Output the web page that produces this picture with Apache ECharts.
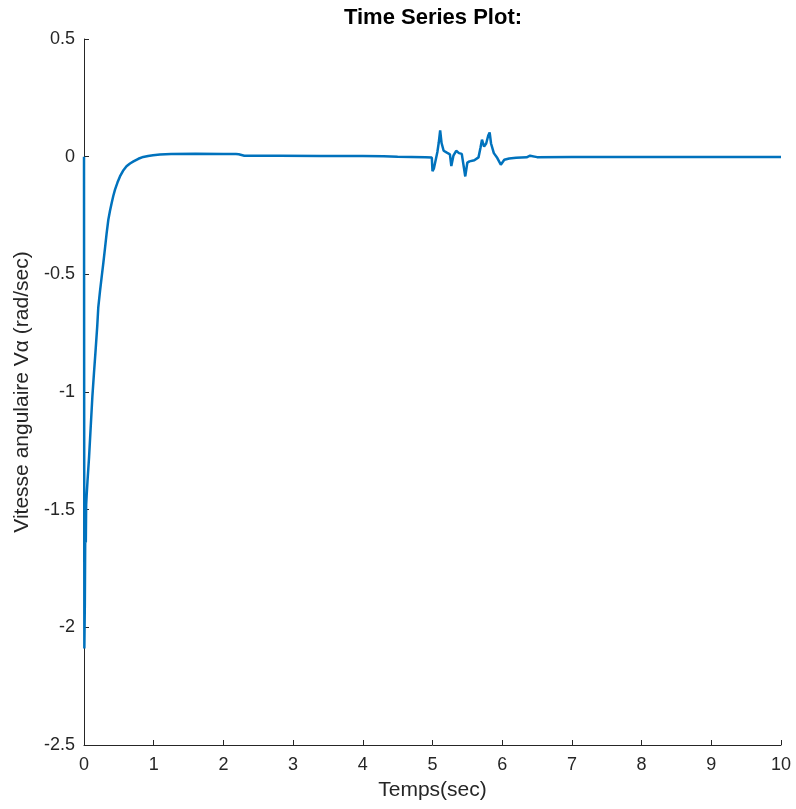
<!DOCTYPE html>
<html>
<head>
<meta charset="utf-8">
<script src="https://cdn.jsdelivr.net/npm/echarts@6/dist/echarts.min.js"></script>
<style>
  html, body { margin: 0; padding: 0; background: #fff; }
  #chart { width: 796px; height: 809px; }
</style>
</head>
<body>
<div id="chart"></div>
<script>
// Angular velocity response over time (rad/sec)
const timeSec = [
  0, 0.005, 0.012, 0.02, 0.026, 0.031, 0.038, 0.05, 0.072, 0.096, 0.12, 0.143,
  0.167, 0.19, 0.205, 0.23, 0.254, 0.278, 0.301, 0.325, 0.349, 0.373, 0.397, 0.42,
  0.445, 0.48, 0.516, 0.56, 0.61, 0.66, 0.71, 0.78, 0.85, 0.92, 0.99, 1.09, 1.25,
  1.6, 2.0, 2.18, 2.2, 2.22, 2.3, 2.8, 3.4, 4.0, 4.3, 4.5,
  4.7, 4.71, 4.72, 4.9, 4.99, 5.0, 5.02, 5.04, 5.07, 5.09, 5.11, 5.13, 5.16,
  5.2, 5.25, 5.27, 5.3, 5.34, 5.38, 5.42, 5.47, 5.5, 5.53, 5.6, 5.66, 5.69,
  5.71, 5.74, 5.77, 5.8, 5.82, 5.84, 5.88, 5.93, 5.98, 6.03, 6.1, 6.2, 6.35,
  6.4, 6.5, 7.0, 8.0, 9.0, 10.0
];
const angularVelocity = [
  0, -2.09, -1.9, -1.5, -1.64, -1.48, -1.44, -1.38, -1.28, -1.15, -1.02, -0.92,
  -0.82, -0.72, -0.64, -0.57, -0.51, -0.45, -0.39, -0.325, -0.268, -0.23, -0.197, -0.167,
  -0.14, -0.11, -0.084, -0.06, -0.041, -0.029, -0.02, -0.009, -0.001, 0.003, 0.006, 0.009, 0.011,
  0.012, 0.011, 0.011, 0.004, 0.01, 0.004, 0.004, 0.003, 0.003, 0.002, 0.0,
  -0.001, 0.006, -0.001, -0.003, -0.004, -0.062, -0.05, -0.045, 0.02, 0.06, 0.112, 0.058, 0.025,
  0.018, 0.01, -0.04, 0.004, 0.025, 0.015, 0.012, -0.084, -0.025, -0.02, -0.015, -0.003, 0.04,
  0.072, 0.043, 0.056, 0.09, 0.103, 0.056, 0.015, -0.006, -0.034, -0.013, -0.008, -0.005, -0.003,
  0.004, -0.002, -0.001, -0.001, -0.001, -0.001
];
const xTicks = { min: 0, max: 10, step: 1 };
const yTicks = { min: -2.5, max: 0.5, step: 0.5 };

const seriesData = timeSec.map((t, i) => [t, angularVelocity[i]]);

const axisColor = '#262626';
const font = '"Liberation Sans", Arial, Helvetica, sans-serif';

const chart = echarts.init(document.getElementById('chart'), null, { renderer: 'canvas' });
chart.setOption({
  animation: false,
  backgroundColor: '#ffffff',
  title: {
    text: 'Time Series Plot:',
    left: 433,
    top: 7,
    padding: 0,
    textAlign: 'center',
    textStyle: { fontFamily: font, fontSize: 22, fontWeight: 'bold', color: '#000' }
  },
  grid: { left: 84, right: 15, top: 39, bottom: 64, containLabel: false },
  xAxis: {
    type: 'value',
    min: xTicks.min, max: xTicks.max, interval: xTicks.step,
    name: 'Temps(sec)',
    nameLocation: 'middle',
    nameGap: 35,
    nameTextStyle: { fontFamily: font, fontSize: 21, color: axisColor },
    axisLine: { show: true, onZero: false, lineStyle: { color: axisColor, width: 1 } },
    axisTick: { show: true, inside: true, length: 5, lineStyle: { color: axisColor } },
    axisLabel: { fontFamily: font, fontSize: 18, color: axisColor, margin: 11 },
    splitLine: { show: false }
  },
  yAxis: {
    type: 'value',
    min: yTicks.min, max: yTicks.max, interval: yTicks.step,
    name: 'Vitesse angulaire Vα (rad/sec)',
    nameLocation: 'middle',
    nameGap: 50,
    nameTextStyle: { fontFamily: font, fontSize: 21, color: axisColor },
    axisLine: { show: true, onZero: false, lineStyle: { color: axisColor, width: 1 } },
    axisTick: { show: true, inside: true, length: 5, lineStyle: { color: axisColor } },
    axisLabel: { fontFamily: font, fontSize: 18, color: axisColor, margin: 9 },
    splitLine: { show: false }
  },
  series: [{
    type: 'line',
    data: seriesData,
    showSymbol: false,
    smooth: false,
    lineStyle: { color: '#0072BD', width: 2.5 },
    itemStyle: { color: '#0072BD' }
  }]
});
</script>
</body>
</html>
